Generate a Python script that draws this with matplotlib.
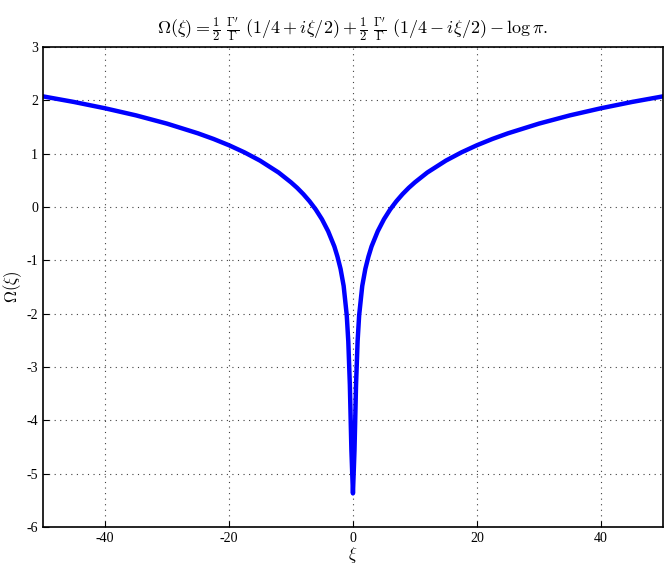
# Omega(xi) の曲線を再現するスクリプト

import numpy as np
import matplotlib
matplotlib.use('Agg')
import matplotlib.pyplot as plt

# 図から読み取った値 (右半分, 左右対称)
xi_half = [0, 0.25, 0.5, 0.75, 1, 1.5, 2, 2.5, 3, 4, 5, 6, 7, 8, 9, 10, 12, 15,
           17.5, 20, 22.5, 25, 30, 35, 40, 45, 50]
omega_half = [-5.37, -4.56, -3.33, -2.52, -2.03, -1.48, -1.16, -0.93, -0.74, -0.455,
              -0.23, -0.047, 0.107, 0.241, 0.359, 0.463, 0.647, 0.870,
              1.024, 1.158, 1.276, 1.381, 1.563, 1.718, 1.851, 1.969, 2.074]

xi = [-v for v in xi_half[:0:-1]] + xi_half
omega = omega_half[:0:-1] + omega_half

x_ticks = [-40, -20, 0, 20, 40]
y_ticks = [-6, -5, -4, -3, -2, -1, 0, 1, 2, 3]

plt.rcParams['font.family'] = ['Liberation Serif', 'DejaVu Serif']
plt.rcParams['mathtext.fontset'] = 'cm'
plt.rcParams['axes.unicode_minus'] = False

fig = plt.figure(figsize=(6.71, 5.64), dpi=100)
ax = fig.add_axes([0.064, 0.0656, 0.924, 0.8511])

ax.plot(xi, omega, color='blue', linewidth=3.2, solid_joinstyle='round')

ax.set_xlim(-50, 50)
ax.set_ylim(-6, 3)
ax.set_xticks(x_ticks)
ax.set_yticks(y_ticks)
ax.tick_params(direction='in', labelsize=10, length=4)
ax.grid(True, color='0.25', linestyle=(0, (1, 4)), linewidth=0.8)
for s in ax.spines.values():
    s.set_linewidth(1.2)

ax.set_xlabel(r'$\xi$', fontsize=12, labelpad=0)
ax.set_ylabel(r'$\Omega(\xi)$', fontsize=12, labelpad=2)
ax.set_title(r"$\Omega(\xi) = \frac{1}{2}\ \frac{\Gamma'}{\Gamma}\ (1/4 + i\xi/2) + \frac{1}{2}\ \frac{\Gamma'}{\Gamma}\ (1/4 - i\xi/2) - \log\pi.$",
             fontsize=13, pad=10)

fig.savefig('out.png', dpi=100)
